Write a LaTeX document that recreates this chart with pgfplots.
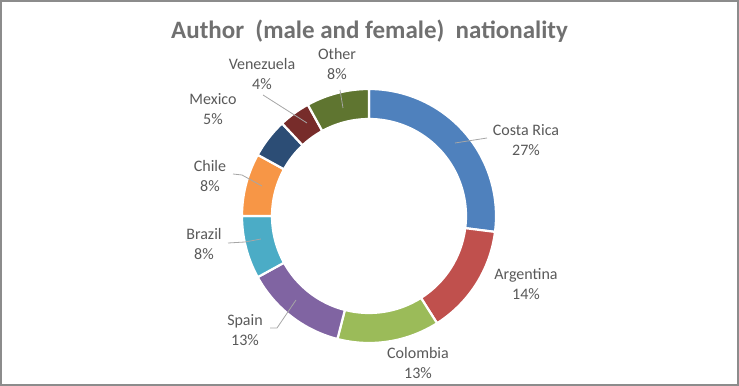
\documentclass[border=0pt]{standalone}
\usepackage{pgfplots}
\usepackage{pgfplotstable}
\pgfplotsset{compat=1.18}
\usepackage{fontspec}
\setmainfont{Carlito}
\definecolor{cCR}{HTML}{4F81BD}
\definecolor{cAR}{HTML}{C0504D}
\definecolor{cCO}{HTML}{9BBB59}
\definecolor{cES}{HTML}{8064A2}
\definecolor{cBR}{HTML}{4BACC6}
\definecolor{cCL}{HTML}{F79646}
\definecolor{cMX}{HTML}{2C4D75}
\definecolor{cVE}{HTML}{772C2A}
\definecolor{cOT}{HTML}{5F7530}
\definecolor{lbl}{HTML}{595959}
\definecolor{ttl}{HTML}{707070}
\definecolor{lead}{HTML}{A6A6A6}
\definecolor{frame}{HTML}{8C8C8C}

\pgfplotstableread{
name value color
CostaRica 27 cCR
Argentina 14 cAR
Colombia 13 cCO
Spain 13 cES
Brazil 8 cBR
Chile 8 cCL
Mexico 5 cMX
Venezuela 4 cVE
Other 8 cOT
}\datatable

\begin{document}
\begin{tikzpicture}
\begin{axis}[
  width=739bp, height=386bp, scale only axis,
  xmin=0, xmax=739, ymin=0, ymax=386,
  hide axis, clip=false,
]
\pgfmathsetmacro\cum{0}
\pgfplotsforeachungrouped \i in {0,...,8}{%
  \pgfplotstablegetelem{\i}{value}\of\datatable \let\v\pgfplotsretval
  \pgfplotstablegetelem{\i}{color}\of\datatable \let\c\pgfplotsretval
  \pgfmathsetmacro\s{90-3.6*\cum}%
  \pgfmathsetmacro\e{90-3.6*(\cum+\v)}%
  \edef\temp{\noexpand\fill[\c, draw=white, line width=2.2bp] (axis cs:369,170) ++(\s:127bp) arc[start angle=\s, end angle=\e, radius=127bp] -- ++(\e:-30bp) arc[start angle=\e, end angle=\s, radius=97bp] -- cycle;}%
  \temp
  \pgfmathsetmacro\cum{\cum+\v}%
}
% leader lines
\draw[lead, line width=0.8bp] (axis cs:455,243) -- (axis cs:487,248);
\draw[lead, line width=0.8bp] (axis cs:263,291) -- (axis cs:307,263);
\draw[lead, line width=0.8bp] (axis cs:340,296) -- (axis cs:343,278);
\draw[lead, line width=0.8bp] (axis cs:233,212) -- (axis cs:242,211) -- (axis cs:262,200);
\draw[lead, line width=0.8bp] (axis cs:228,143) -- (axis cs:245,144) -- (axis cs:261,147);
\draw[lead, line width=0.8bp] (axis cs:270,58) -- (axis cs:277,58) -- (axis cs:296,86);
% labels
\tikzset{lab/.style={text=lbl, align=center, inner sep=0pt, font=\fontsize{16bp}{20bp}\selectfont}}
\node[lab] at (axis cs:526,246) {Costa Rica\\27\%};
\node[lab] at (axis cs:526,102) {Argentina\\14\%};
\node[lab] at (axis cs:418,23) {Colombia\\13\%};
\node[lab] at (axis cs:245,56) {Spain\\13\%};
\node[lab] at (axis cs:204,142) {Brazil\\8\%};
\node[lab] at (axis cs:210,210) {Chile\\8\%};
\node[lab] at (axis cs:213,277) {Mexico\\5\%};
\node[lab] at (axis cs:262,312) {Venezuela\\4\%};
\node[lab] at (axis cs:337,322) {Other\\8\%};
% title
\node[text=ttl, anchor=base, inner sep=0pt, font=\fontsize{25bp}{30bp}\selectfont\bfseries] at (axis cs:369.5,347) {Author\ \ (male and female)\ \ nationality};
% frame
\draw[frame, line width=2bp] (axis cs:1,1) rectangle (axis cs:738,385);
\end{axis}
\end{tikzpicture}
\end{document}
